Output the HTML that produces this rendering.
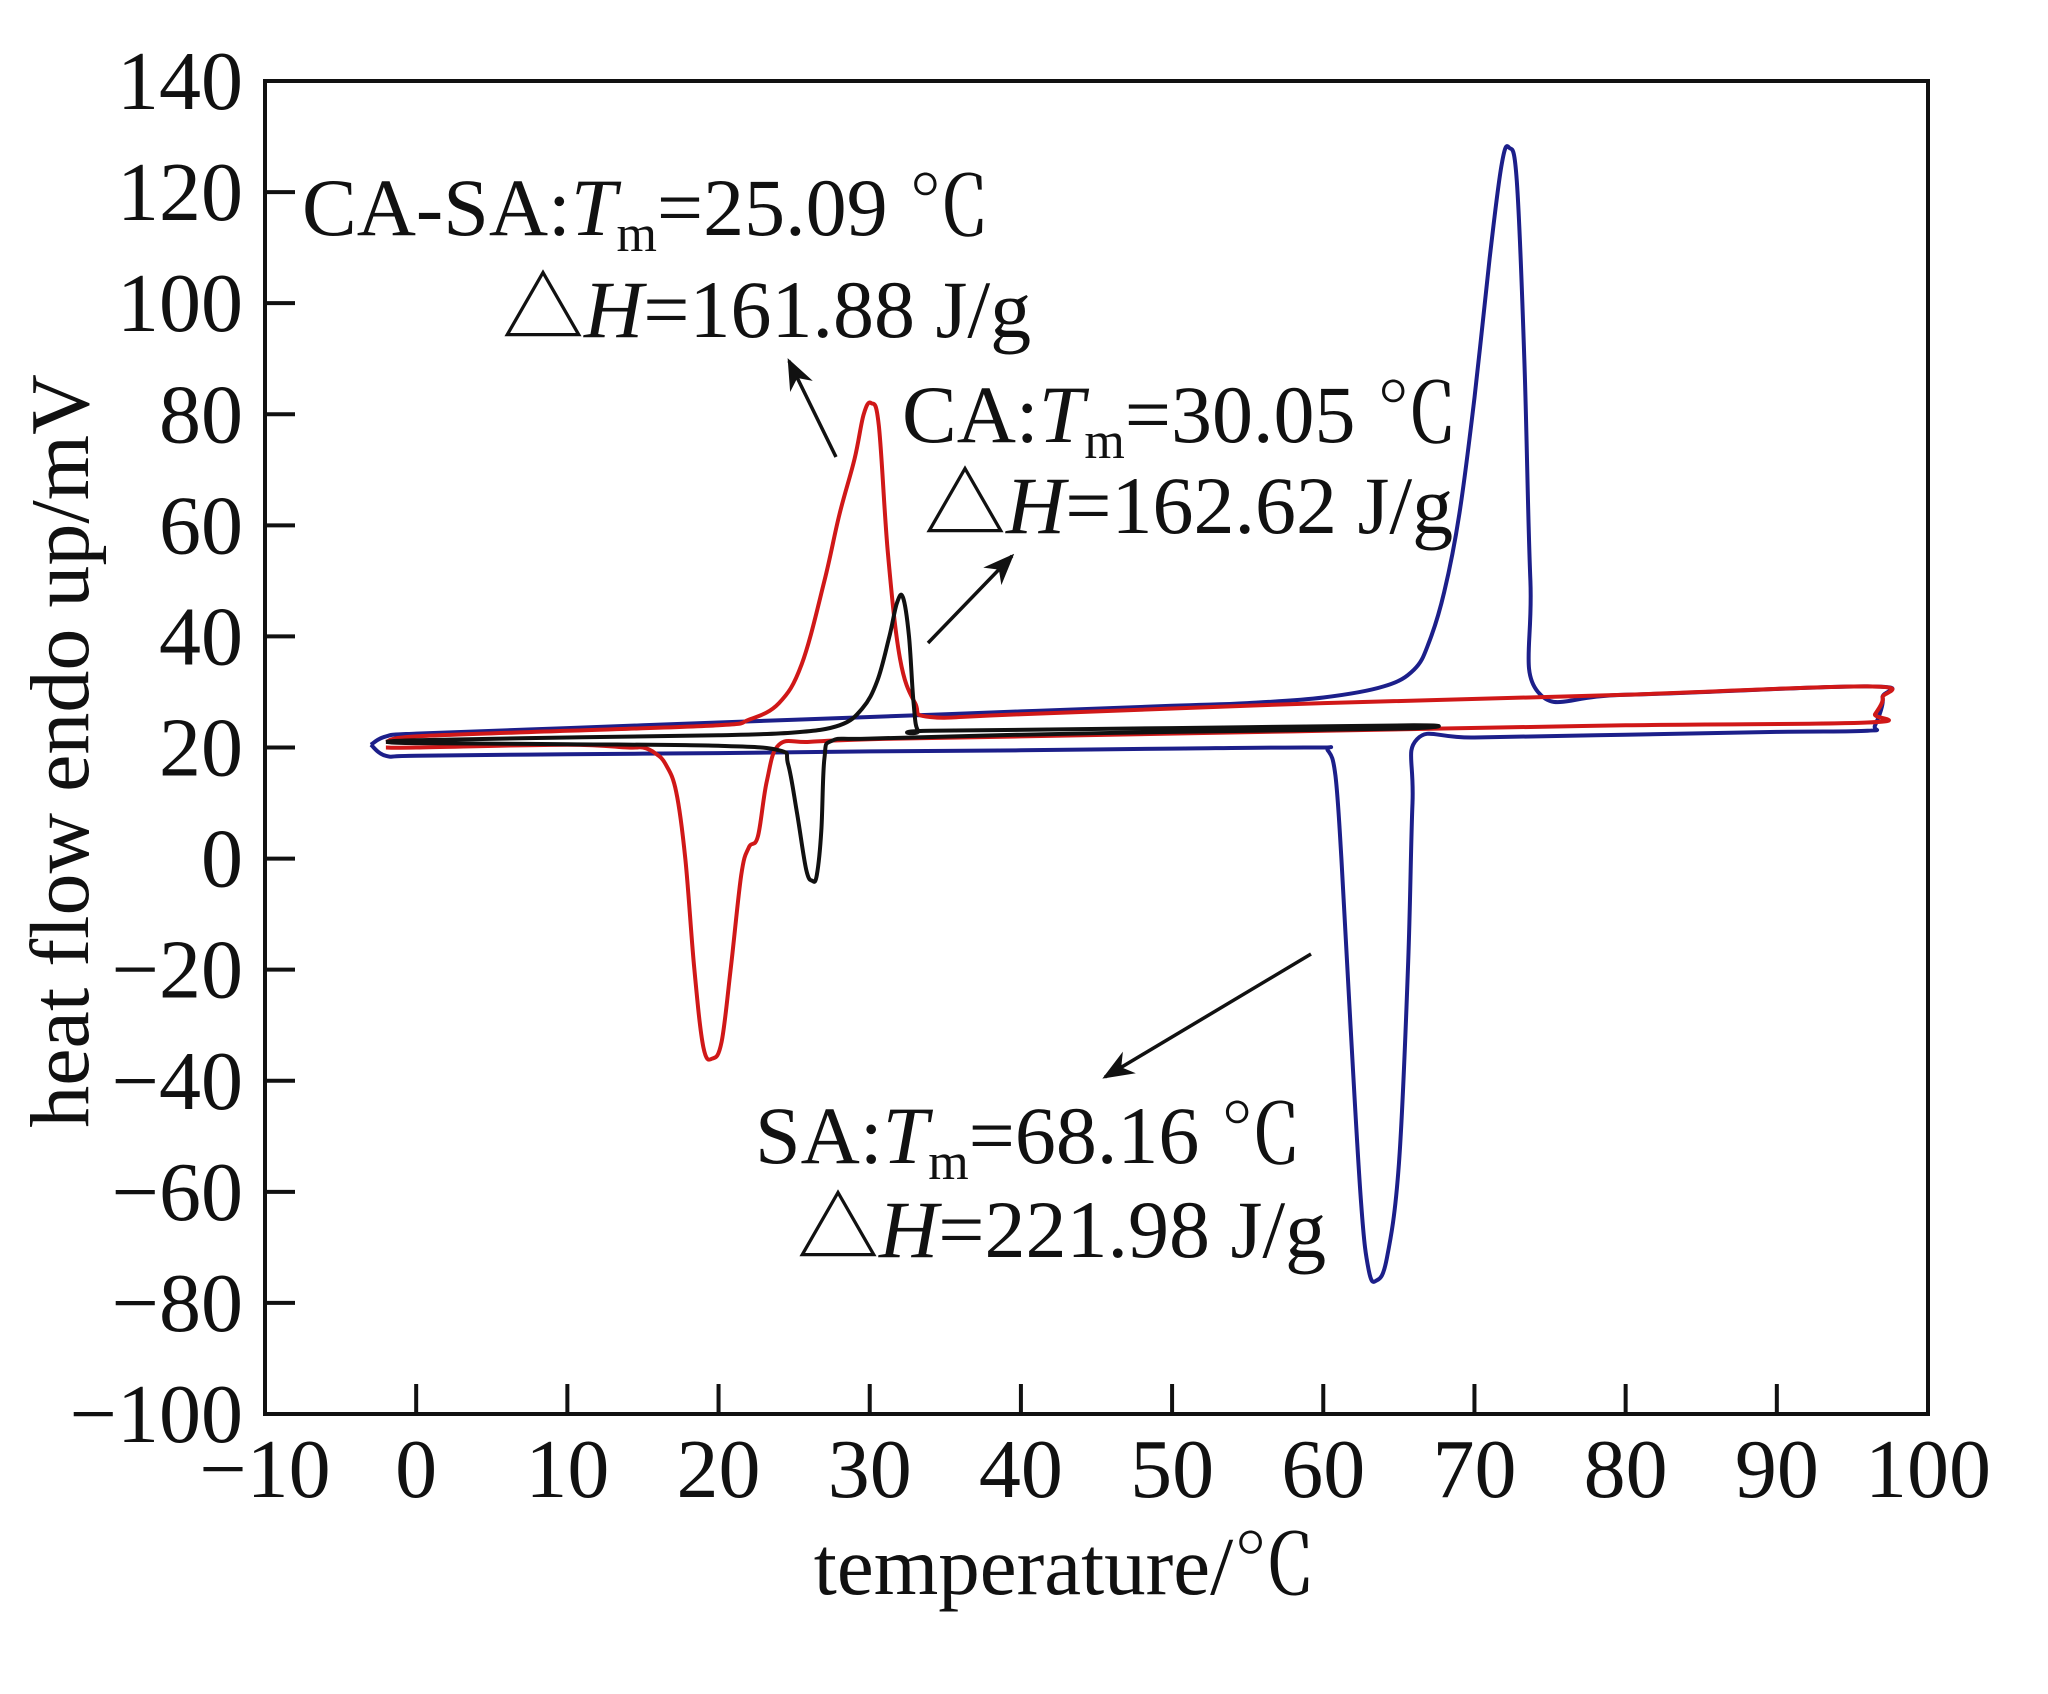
<!DOCTYPE html>
<html><head><meta charset="utf-8"><style>
html,body{margin:0;padding:0;background:#fff}
svg{display:block}
text{font-family:"Liberation Serif","Noto Serif CJK SC",serif;fill:#111}
</style></head><body>
<svg id="chart" width="2048" height="1694" viewBox="0 0 2048 1694" xmlns="http://www.w3.org/2000/svg">
<defs><marker id="ah" viewBox="0 0 10 10" refX="9" refY="5" markerWidth="9" markerHeight="9" orient="auto"><path d="M0,1 L10,5 L0,9 L3,5 z" fill="#111"/></marker></defs>
<g id="marks"></g>
<rect x="265" y="81" width="1663" height="1333" fill="none" stroke="#111" stroke-width="4"/>
<g id="ticks"></g>
<text transform="translate(88,751) rotate(-90)" text-anchor="middle" font-size="84">heat flow endo up/mV</text>
<text x="1065" y="1594" text-anchor="middle" font-size="83">temperature/℃</text>
<text x="302" y="235" font-size="82">CA-SA:<tspan font-style="italic">T</tspan><tspan font-size="52" dy="16">m</tspan><tspan dy="-16">=25.09 ℃</tspan></text>
<text x="502" y="337" font-size="82">△<tspan font-style="italic">H</tspan>=161.88 J/g</text>
<text x="902" y="442" font-size="82">CA:<tspan font-style="italic">T</tspan><tspan font-size="52" dy="16">m</tspan><tspan dy="-16">=30.05 ℃</tspan></text>
<text x="924" y="533" font-size="82">△<tspan font-style="italic">H</tspan>=162.62 J/g</text>
<text x="755" y="1163" font-size="82">SA:<tspan font-style="italic">T</tspan><tspan font-size="52" dy="16">m</tspan><tspan dy="-16">=68.16 ℃</tspan></text>
<text x="797" y="1257" font-size="82">△<tspan font-style="italic">H</tspan>=221.98 J/g</text>
<line x1="836" y1="457" x2="789" y2="361" stroke="#111" stroke-width="3.5" marker-end="url(#ah)"/>
<line x1="928" y1="643" x2="1012" y2="556" stroke="#111" stroke-width="3.5" marker-end="url(#ah)"/>
<line x1="1311" y1="954" x2="1105" y2="1077" stroke="#111" stroke-width="3.5" marker-end="url(#ah)"/>
</svg>
<script>
const xTicks=[-10,0,10,20,30,40,50,60,70,80,90,100];
const yTicks=[-100,-80,-60,-40,-20,0,20,40,60,80,100,120,140];
const blueX=[-3,-2,0,10,20,30,40,50,55,60,64,66,67,68,69,70,71,71.8,72.3,72.8,73.3,73.7,74.2,80,96,97,96.5,96,90,80,70,66.2,65.9,65.6,65,64.2,63.5,63,62.5,61.8,61.2,60.8,60.3,59.5,50,40,30,20,10,0,-2,-3];
const blueY=[20.5,22,22.5,23.5,24.5,25.5,26.5,27.5,28,29,31,34,39,48,62,83,108,125,128,122,90,50,30,29.5,31,29,24,23,22.8,22.3,21.8,21.5,10,-20,-55,-72,-76,-74,-62,-30,0,15,19.5,20,19.8,19.5,19.3,19,18.8,18.5,18.5,20.5];
const redX=[-2,0,10,20,22,24,25.5,27,28,29,29.6,30.1,30.6,31.2,32,33,34,40,60,80,96,97,96.5,96,80,60,40,30,26,24,23.2,22.6,22,21.5,20.8,20.2,19.6,19,18.4,17.8,17.2,16.5,15.8,15,14,10,0,-2];
const redY=[21,22,23,24,25,28,35,50,62,72,80,82,78,55,36,28,25.5,26,28,29.5,31,29,26,24.5,24,23,22,21.5,21,20.5,14,4,2,-3,-20,-33,-36,-34,-20,0,12,17,19,20,20,20.5,20,20];
const blackX=[-2,0,10,20,25,28,29.5,30.5,31.3,31.8,32.2,32.6,32.9,33.2,34,50,66,66.2,60,50,40,30,27.5,27,26.8,26.5,26.2,25.8,25.2,24.6,24,20,10,0,-2];
const blackY=[21,21.3,21.8,22.2,22.7,24,27,32,40,46,47,40,28,23,23,23.5,24,23.5,23.2,22.8,22.3,21.6,21.2,18,5,-3,-4,-2,8,17,19.5,20.3,20.6,20.8,21];
const L=265,R=1928,T=81,B=1414;
const sx=v=>L+(v+10)/110*(R-L);
const sy=v=>B-(v+100)/240*(B-T);
const NS='http://www.w3.org/2000/svg';
const marks=document.getElementById('marks'),ticks=document.getElementById('ticks');
function smoothPath(xs,ys){
  const P=xs.map((x,i)=>[sx(x),sy(ys[i])]);
  const n=P.length;let d='M'+P[0][0].toFixed(1)+','+P[0][1].toFixed(1);
  for(let i=0;i<n-1;i++){
    const p0=P[Math.max(0,i-1)],p1=P[i],p2=P[i+1],p3=P[Math.min(n-1,i+2)];
    const t=0.18;
    const c1=[p1[0]+(p2[0]-p0[0])*t,p1[1]+(p2[1]-p0[1])*t];
    const c2=[p2[0]-(p3[0]-p1[0])*t,p2[1]-(p3[1]-p1[1])*t];
    d+=' C'+c1[0].toFixed(1)+','+c1[1].toFixed(1)+' '+c2[0].toFixed(1)+','+c2[1].toFixed(1)+' '+p2[0].toFixed(1)+','+p2[1].toFixed(1);
  }
  return d;
}
function series(xs,ys,color,name){
  const p=document.createElementNS(NS,'path');
  p.setAttribute('d',smoothPath(xs,ys));
  p.setAttribute('fill','none');p.setAttribute('stroke',color);p.setAttribute('stroke-width','4');p.setAttribute('stroke-linejoin','round');
  
  
  marks.appendChild(p);
}
series(blueX,blueY,'#1c1f8a','sa-curve');
series(redX,redY,'#d01818','ca-sa-curve');
series(blackX,blackY,'#111111','ca-curve');
xTicks.forEach(v=>{
  const x=sx(v);
  if(v>-10&&v<100){const l=document.createElementNS(NS,'line');l.setAttribute('x1',x);l.setAttribute('x2',x);l.setAttribute('y1',B);l.setAttribute('y2',B-30);l.setAttribute('stroke','#111');l.setAttribute('stroke-width','4');
  
  
  ticks.appendChild(l);}
  const t=document.createElementNS(NS,'text');t.setAttribute('x',x);t.setAttribute('y',B+83);t.setAttribute('text-anchor','middle');t.setAttribute('font-size','84');
  t.textContent=v<0?'−'+(-v):String(v);
  
  
  ticks.appendChild(t);
});
yTicks.forEach(v=>{
  const y=sy(v);
  if(v>-100&&v<140){const l=document.createElementNS(NS,'line');l.setAttribute('x1',L);l.setAttribute('x2',L+30);l.setAttribute('y1',y);l.setAttribute('y2',y);l.setAttribute('stroke','#111');l.setAttribute('stroke-width','4');
  
  
  ticks.appendChild(l);}
  const t=document.createElementNS(NS,'text');t.setAttribute('x',L-22);t.setAttribute('y',y+28);t.setAttribute('text-anchor','end');t.setAttribute('font-size','84');
  t.textContent=v<0?'−'+(-v):String(v);
  
  
  ticks.appendChild(t);
});
</script>
</body></html>
